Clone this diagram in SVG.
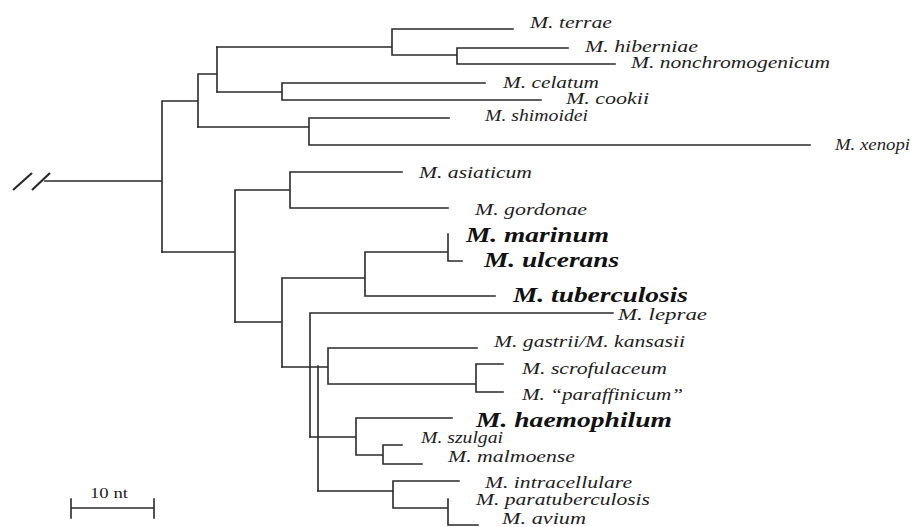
<svg xmlns="http://www.w3.org/2000/svg" width="924" height="527" viewBox="0 0 924 527">
<style>
.br{stroke:#2a2a2a;stroke-width:1.6;fill:none;stroke-linecap:square}
.sl{stroke:#2a2a2a;stroke-width:2.2;fill:none}
.lb{font-family:"Liberation Serif","Times New Roman",serif;font-style:italic;font-size:16px;fill:#1e1e1e}
.bd{font-family:"Liberation Serif","Times New Roman",serif;font-style:italic;font-weight:bold;font-size:20px;fill:#111}
.sc{font-family:"Liberation Serif","Times New Roman",serif;font-size:15px;fill:#1e1e1e}
</style>
<rect width="924" height="527" fill="#fff"/>
<g id="connectors">
<path class="sl" d="M13,190 L32,173 M32,190 L50,173"/>
<path class="br" d="M45,181 H162 M162,101 V252 M162,101 H198 M198,74 V127 M198,74 H217 M217,47 V92"/>
<path class="br" d="M217,47 H392 M392,29 V55 M392,29 H513 M392,55 H457 M457,48 V64 M457,48 H568 M457,64 H615"/>
<path class="br" d="M217,92 H282 M282,83 V100 M282,83 H485 M282,100 H541"/>
<path class="br" d="M198,127 H309 M309,118 V145 M309,118 H449 M309,145 H810"/>
<path class="br" d="M162,252 H235 M235,190 V322 M235,190 H290 M290,172 V208 M290,172 H402 M290,208 H448"/>
<path class="br" d="M235,322 H282 M282,278 V367 M282,278 H365 M365,252 V296 M365,252 H448 M448,234 V261 M448,261 H462 M365,296 H495"/>
<path class="br" d="M282,367 H328 M310,313 V437 M310,313 H613 M318,366 V491 M328,348 V384 M328,348 H477 M328,384 H476 M476,364 V392 M476,364 H503 M476,392 H503"/>
<path class="br" d="M310,437 H356 M356,418 V455 M356,418 H452 M356,455 H383 M383,445 V464 M383,445 H402 M383,464 H422"/>
<path class="br" d="M318,491 H393 M393,481 V508 M393,481 H459 M393,508 H448 M448,499 V525 M448,525 H478"/>
</g>
<g id="terrae"><text class="lb" x="530" y="28" textLength="82" lengthAdjust="spacingAndGlyphs">M. terrae</text></g>
<g id="hiberniae"><text class="lb" x="585" y="52" textLength="113" lengthAdjust="spacingAndGlyphs">M. hiberniae</text></g>
<g id="nonchromogenicum"><text class="lb" x="631" y="68" textLength="199" lengthAdjust="spacingAndGlyphs">M. nonchromogenicum</text></g>
<g id="celatum"><text class="lb" x="503" y="88" textLength="96" lengthAdjust="spacingAndGlyphs">M. celatum</text></g>
<g id="cookii"><text class="lb" x="566" y="104" textLength="83" lengthAdjust="spacingAndGlyphs">M. cookii</text></g>
<g id="shimoidei"><text class="lb" x="485" y="121" textLength="103" lengthAdjust="spacingAndGlyphs">M. shimoidei</text></g>
<g id="xenopi"><text class="lb" x="835" y="150" textLength="75" lengthAdjust="spacingAndGlyphs">M. xenopi</text></g>
<g id="asiaticum"><text class="lb" x="419" y="178" textLength="113" lengthAdjust="spacingAndGlyphs">M. asiaticum</text></g>
<g id="gordonae"><text class="lb" x="475" y="215" textLength="112" lengthAdjust="spacingAndGlyphs">M. gordonae</text></g>
<g id="marinum"><text class="bd" x="466" y="242" textLength="143" lengthAdjust="spacingAndGlyphs">M. marinum</text></g>
<g id="ulcerans"><text class="bd" x="484" y="267" textLength="135" lengthAdjust="spacingAndGlyphs">M. ulcerans</text></g>
<g id="tuberculosis"><text class="bd" x="513" y="302" textLength="175" lengthAdjust="spacingAndGlyphs">M. tuberculosis</text></g>
<g id="leprae"><text class="lb" x="618" y="320" textLength="89" lengthAdjust="spacingAndGlyphs">M. leprae</text></g>
<g id="gastrii"><text class="lb" x="494" y="347" textLength="191" lengthAdjust="spacingAndGlyphs">M. gastrii/M. kansasii</text></g>
<g id="scrofulaceum"><text class="lb" x="522" y="374" textLength="145" lengthAdjust="spacingAndGlyphs">M. scrofulaceum</text></g>
<g id="paraffinicum"><text class="lb" x="522" y="400" textLength="161" lengthAdjust="spacingAndGlyphs">M. “paraffinicum”</text></g>
<g id="haemophilum"><text class="bd" x="476" y="427" textLength="196" lengthAdjust="spacingAndGlyphs">M. haemophilum</text></g>
<g id="szulgai"><text class="lb" x="421" y="443" textLength="82" lengthAdjust="spacingAndGlyphs">M. szulgai</text></g>
<g id="malmoense"><text class="lb" x="448" y="462" textLength="127" lengthAdjust="spacingAndGlyphs">M. malmoense</text></g>
<g id="intracellulare"><text class="lb" x="485" y="488" textLength="147" lengthAdjust="spacingAndGlyphs">M. intracellulare</text></g>
<g id="paratuberculosis"><text class="lb" x="476" y="505" textLength="174" lengthAdjust="spacingAndGlyphs">M. paratuberculosis</text></g>
<g id="avium"><text class="lb" x="502" y="524" textLength="84" lengthAdjust="spacingAndGlyphs">M. avium</text></g>
<g id="scalebar">
<path class="br" d="M71,508 H154 M71,499 V518 M154,499 V518"/>
<text class="sc" x="90" y="498" textLength="38" lengthAdjust="spacingAndGlyphs">10 nt</text>
</g>
</svg>
